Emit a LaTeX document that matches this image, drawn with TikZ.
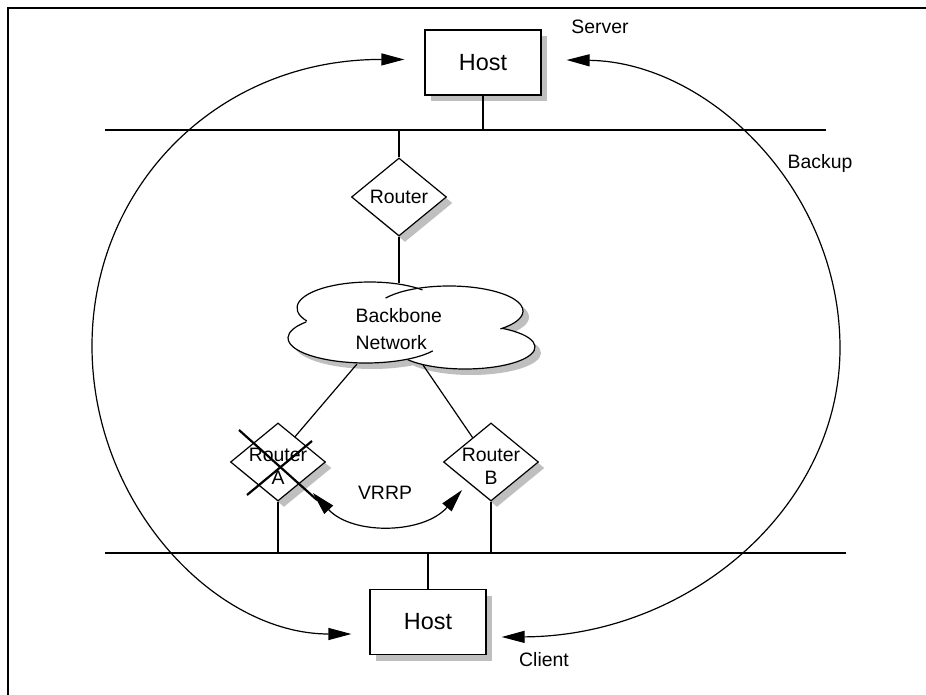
\documentclass[tikz,border=0pt]{standalone}
\usepackage{fontspec}
\setmainfont{Liberation Sans}
\usetikzlibrary{arrows.meta, positioning, shapes.geometric, shadows}

\begin{document}
\begin{tikzpicture}[
  x=0.5pt, y=0.5pt,
  line width=0.6pt,
  shadowed/.style={drop shadow={shadow xshift=3pt, shadow yshift=-3pt, fill=black!25, opacity=1}},
  hostbox/.style={draw, fill=white, shadowed, minimum width=58pt, minimum height=32.5pt, inner sep=0pt, font=\fontsize{11.7}{14}\selectfont},
  router/.style={diamond, draw, fill=white, shadowed, minimum width=47.5pt, minimum height=39pt, inner sep=0pt, font=\fontsize{9.7}{11.5}\selectfont},
  lbl/.style={font=\fontsize{9.7}{11.5}\selectfont, align=center},
  arrow/.style={{Triangle[length=11.5pt, width=6pt]}-{Triangle[length=11.5pt, width=6pt]}},
  crossout/.style={line width=1.1pt},
  lobe/.style={fill=white}
]
  \useasboundingbox (0,0) rectangle (926,-695);
  \draw[line width=1pt] (926,-8) -- (8,-8) -- (8,-695);

  \coordinate (lanTw) at (105,-130);
  \coordinate (lanTe) at (826,-130);
  \coordinate (lanBw) at (105,-553);
  \coordinate (lanBe) at (846,-553);

  \node[hostbox] (hostT) at (483,-62.5) {Host};
  \node[hostbox] (hostB) at (428,-622) {Host};
  \node[router] (rtr) at (399,-197) {Router};
  \node[router, label={[lbl, yshift=-2pt]center:Router\\A}] (ra) at (278,-462) {};
  \node[router, label={[lbl, yshift=-2pt]center:Router\\B}] (rb) at (491,-462) {};

  % backbone cloud
  \fill[black!25, shift={(6,-6)}] (370,-308) ellipse[x radius=36.5pt, y radius=13pt]
    (449,-311) ellipse[x radius=37pt, y radius=12.5pt]
    (465,-347) ellipse[x radius=35pt, y radius=11pt]
    (366,-338) ellipse[x radius=39pt, y radius=12.5pt];
  \fill[lobe] (370,-308) ellipse[x radius=36.5pt, y radius=13pt]
    (449,-311) ellipse[x radius=37pt, y radius=12.5pt]
    (465,-347) ellipse[x radius=35pt, y radius=11pt]
    (366,-338) ellipse[x radius=39pt, y radius=12.5pt];
  \draw ([shift={(210:36.5pt and 13pt)}]370,-308) arc[start angle=210, end angle=44, x radius=36.5pt, y radius=13pt];
  \draw ([shift={(149:37pt and 12.5pt)}]449,-311) arc[start angle=149, end angle=-46, x radius=37pt, y radius=12.5pt];
  \draw ([shift={(58:35pt and 11pt)}]465,-347) arc[start angle=58, end angle=-145, x radius=35pt, y radius=11pt];
  \draw ([shift={(-31:39pt and 12.5pt)}]366,-338) arc[start angle=-31, end angle=-220, x radius=39pt, y radius=12.5pt];
  \node[lbl, align=left, anchor=west, inner sep=0pt, font=\fontsize{9.7}{13.5}\selectfont] (bbn) at (355,-329.5) {Backbone\\Network};
  \coordinate (cldN) at (399,-283);
  \coordinate (cldSW) at (357,-364);
  \coordinate (cldSE) at (423,-365);

  \draw (lanTw) -- (lanTe);
  \draw (lanBw) -- (lanBe);
  \draw (hostT.south) -- (hostT.south |- lanTw);
  \draw[line width=1.1pt] (rtr.north) -- (rtr.north |- lanTw);
  \draw (rtr.south) -- (cldN);
  \draw (cldSW) -- (ra.56);
  \draw (cldSE) -- (rb.127);
  \draw (ra.south) -- (ra.south |- lanBw);
  \draw (rb.south) -- (rb.south |- lanBw);
  \draw (hostB.north) -- (hostB.north |- lanBw);

  \draw[crossout] (ra.center) +(-39,32) -- +(39,-38);
  \draw[crossout] (ra.center) +(-31,-33) -- +(34,21);

  \coordinate (vl) at (313,-493);
  \coordinate (vr) at (462,-490);
  \draw[arrow] (vl) to[bend right=48] (vr);
  \node[lbl] (vrrp) at (385,-493) {VRRP};

  \draw[arrow] ([shift={(-10pt,1.5pt)}]hostT.west) .. controls (216,-59) and (92,-188) .. (92,-346)
    .. controls (92,-505) and (216,-634) .. ([shift={(-9pt,-6pt)}]hostB.west);
  \draw[arrow] ([shift={(12.5pt,1.25pt)}]hostT.east) .. controls (708,-62) and (840,-189) .. (840,-348)
    .. controls (840,-507) and (690,-636) .. ([shift={(7.5pt,-7.5pt)}]hostB.east);

  \node[lbl] (srv) at (600,-27) {Server};
  \node[lbl] (bkp) at (820,-163) {Backup};
  \node[lbl] (cli) at (544,-660) {Client};
\end{tikzpicture}
\end{document}
